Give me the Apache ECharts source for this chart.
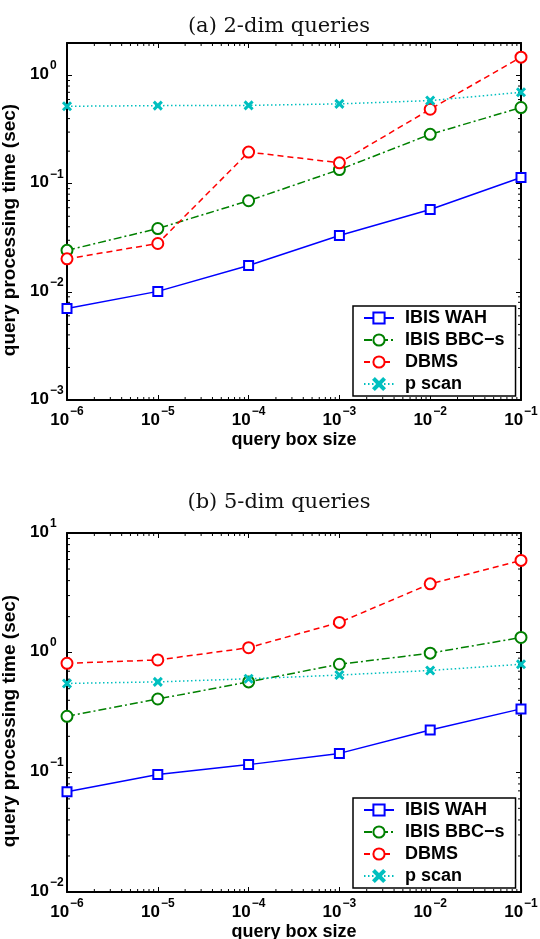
<!DOCTYPE html>
<html><head><meta charset="utf-8">
<script src="https://cdn.jsdelivr.net/npm/echarts@6/dist/echarts.min.js"></script>
<style>html,body{margin:0;padding:0;background:#fff}#c{width:540px;height:939px}</style>
</head><body><div id="c"></div>
<script>
const xValues = [1e-6, 1e-5, 1e-4, 1e-3, 1e-2, 1e-1];
const seriesNames = ['IBIS WAH', 'IBIS BBC\u2212s', 'DBMS', 'p scan'];
const titles = ['(a) 2-dim queries', '(b) 5-dim queries'];
// panel (a) 2-dim
const a_wah  = [0.0070, 0.0101, 0.0175, 0.0332, 0.0578, 0.114];
const a_bbc  = [0.0242, 0.0385, 0.0696, 0.135, 0.286, 0.506];
const a_dbms = [0.0202, 0.0280, 0.196, 0.156, 0.488, 1.48];
const a_scan = [0.520, 0.527, 0.530, 0.547, 0.587, 0.700];
// panel (b) 5-dim
const b_wah  = [0.0687, 0.096, 0.116, 0.144, 0.226, 0.339];
const b_bbc  = [0.294, 0.41, 0.57, 0.80, 0.99, 1.34];
const b_dbms = [0.815, 0.869, 1.10, 1.79, 3.76, 5.9];
const b_scan = [0.553, 0.57, 0.605, 0.65, 0.71, 0.80];
const yRanges = [[1e-3, 2], [1e-2, 10]];
const xRange = [1e-6, 1e-1];

const chart = echarts.init(document.getElementById('c'));
const SANS = 'Liberation Sans, Arial, sans-serif';
const colors = ['#0000ff', '#008000', '#ff0000', '#00bfbf'];
const lineTypes = ['solid', [8, 3, 2, 3], [6, 4], [1.5, 2.5]];
const xPath = 'path://M0,1.3L1.3,0L5,3.7L8.7,0L10,1.3L6.3,5L10,8.7L8.7,10L5,6.3L1.3,10L0,8.7L3.7,5Z';
const symbols = ['emptyRect', 'emptyCircle', 'emptyCircle', xPath];
const symSizes = [9, 11, 11, 8];

function supLabel(v) {
  const l = Math.log10(v), e = Math.round(l);
  if (Math.abs(l - e) > 1e-6) return '';
  return '{b|10}{s|' + (e < 0 ? '\u2212' + (-e) : e) + '}';
}
const rich = {
  b: {fontSize: 17, fontWeight: 'bold', fontFamily: SANS, color: '#000', verticalAlign: 'bottom'},
  s: {fontSize: 12, fontWeight: 'bold', fontFamily: SANS, color: '#000', verticalAlign: 'top', padding: [0, 0, 11, 1]}
};

const grids = [
  {left: 67, top: 43, width: 454, height: 357, containLabel: false, outerBoundsMode: 'none'},
  {left: 67, top: 533, width: 454, height: 359, containLabel: false, outerBoundsMode: 'none'}
];
const xAxes = [], yAxes = [], series = [], legends = [], titleComps = [];
const panels = [[a_wah, a_bbc, a_dbms, a_scan], [b_wah, b_bbc, b_dbms, b_scan]];
const axisLine = {show: true, lineStyle: {color: '#000', width: 2}};
const majorTick = {show: true, inside: true, length: 5, lineStyle: {color: '#000', width: 1}};

panels.forEach((data, gi) => {
  const yr = yRanges[gi];
  titleComps.push({
    text: titles[gi], left: 274, textAlign: 'center',
    top: gi === 0 ? 11 : 487,
    textStyle: {fontFamily: 'DejaVu Serif, serif', fontWeight: 'normal', fontSize: 21, color: '#111'}
  });
  const xi = xAxes.length, yi = yAxes.length;
  xAxes.push({
    type: 'log', logBase: 10, gridIndex: gi, min: xRange[0], max: xRange[1], position: 'bottom',
    name: 'query box size', nameLocation: 'middle', nameGap: 31,
    nameTextStyle: {fontFamily: SANS, fontWeight: 'bold', fontSize: 18, color: '#000'},
    axisLine, axisTick: majorTick,
    axisLabel: {formatter: supLabel, rich, margin: 6, showMaxLabel: true, showMinLabel: true, hideOverlap: false},
    splitLine: {show: false}
  });
  xAxes.push({
    type: 'log', logBase: 10, gridIndex: gi, min: xRange[0], max: xRange[1], position: 'top',
    axisLine, axisTick: majorTick, axisLabel: {show: false}, splitLine: {show: false}
  });
  yAxes.push({
    type: 'log', logBase: 10, gridIndex: gi, min: yr[0], max: yr[1], position: 'left',
    name: 'query processing time (sec)', nameLocation: 'middle', nameGap: 29,
    nameTextStyle: {fontFamily: SANS, fontWeight: 'bold', fontSize: 19, color: '#000', padding: [0, 17, 0, 0]},
    axisLine, axisTick: majorTick,
    axisLabel: {formatter: supLabel, rich, margin: 37, align: 'left', padding: [0, 0, 8, 0], hideOverlap: false},
    splitLine: {show: false}
  });
  yAxes.push({
    type: 'log', logBase: 10, gridIndex: gi, min: yr[0], max: yr[1], position: 'right',
    axisLine, axisTick: majorTick, axisLabel: {show: false}, splitLine: {show: false}
  });
  // minor ticks placed through the axes' own scales
  series.push({
    type: 'custom', name: 'minor' + gi, xAxisIndex: xi, yAxisIndex: yi, silent: true, z: 1,
    data: [[xRange[0], yr[0]]],
    renderItem: function (params, api) {
      const ch = [];
      const bl = api.coord([xRange[0], yr[0]]);
      const tr = api.coord([xRange[1], yr[1]]);
      const st = {stroke: '#000', lineWidth: 1};
      for (let k = Math.round(Math.log10(xRange[0])); k < Math.round(Math.log10(xRange[1])); k++) {
        for (let m = 2; m <= 9; m++) {
          const px = api.coord([m * Math.pow(10, k), yr[0]])[0];
          ch.push({type: 'line', shape: {x1: px, y1: bl[1], x2: px, y2: bl[1] - 3}, style: st});
          ch.push({type: 'line', shape: {x1: px, y1: tr[1], x2: px, y2: tr[1] + 3}, style: st});
        }
      }
      for (let k = Math.round(Math.log10(yr[0])); k <= Math.ceil(Math.log10(yr[1])); k++) {
        for (let m = 2; m <= 9; m++) {
          const v = m * Math.pow(10, k);
          if (v >= yr[1] * 0.999) continue;
          const py = api.coord([xRange[0], v])[1];
          ch.push({type: 'line', shape: {x1: bl[0], y1: py, x2: bl[0] + 3, y2: py}, style: st});
          ch.push({type: 'line', shape: {x1: tr[0], y1: py, x2: tr[0] - 3, y2: py}, style: st});
        }
      }
      return {type: 'group', children: ch};
    }
  });
  data.forEach((vals, si) => {
    series.push({
      type: 'line', name: seriesNames[si], xAxisIndex: xi, yAxisIndex: yi, z: 3,
      data: vals.map((v, i) => [xValues[i], v]),
      symbol: symbols[si], symbolSize: symSizes[si], showAllSymbol: true,
      itemStyle: {color: colors[si], borderColor: colors[si], borderWidth: 1.5},
      lineStyle: {color: colors[si], width: 1.5, type: lineTypes[si]},
      emphasis: {disabled: true}, animation: false
    });
  });
  legends.push({
    data: seriesNames, orient: 'vertical', left: 353, top: gi === 0 ? 306 : 798,
    padding: [2, 11, 2, 10], itemWidth: 30, itemHeight: 14, itemGap: 2,
    backgroundColor: '#fff', borderColor: '#000', borderWidth: 1.5, selectedMode: false,
    textStyle: {fontFamily: SANS, fontWeight: 'bold', fontSize: 18, lineHeight: 20, color: '#000', padding: [0, 0, 0, 6]}
  });
});

chart.setOption({
  animation: false,
  backgroundColor: '#fff',
  title: titleComps,
  grid: grids,
  xAxis: xAxes,
  yAxis: yAxes,
  legend: legends,
  series
});
</script></body></html>
